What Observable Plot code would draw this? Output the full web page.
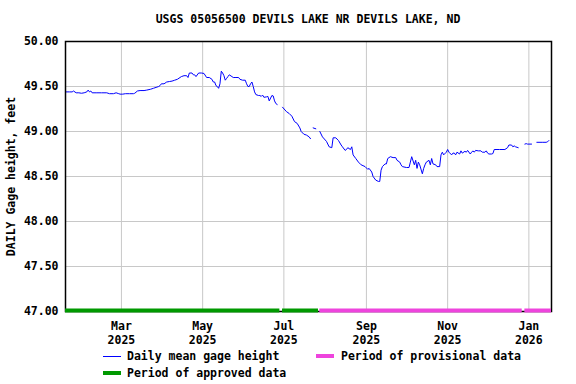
<!DOCTYPE html>
<html>
<head>
<meta charset="utf-8">
<script src="https://cdn.jsdelivr.net/npm/d3@7"></script>
<script src="https://cdn.jsdelivr.net/npm/@observablehq/plot@0.6"></script>
<style>
  body { margin: 0; background: #fff; }
  #wrap { position: relative; width: 576px; height: 384px; font-family: "DejaVu Sans Mono", monospace; font-weight: bold; font-size: 11.5px; color: #000; }
  #title { position: absolute; left: 65px; width: 486px; top: 12px; line-height: 14px; text-align: center; white-space: nowrap; }
  #chart { position: absolute; left: 0; top: 30px; }
  .lg { position: absolute; line-height: 14px; white-space: nowrap; }
  .sw { position: absolute; width: 18px; }
</style>
</head>
<body>
<div id="wrap">
  <div id="title"></div>
  <div id="chart"></div>
  <div id="legend"></div>
</div>
<script>
const titleText = "USGS 05056500 DEVILS LAKE NR DEVILS LAKE, ND";
const yLabel = "DAILY Gage height, feet";

// Daily mean gage height readings (null = gap in record)
const dates = [
"2025-01-18","2025-01-21","2025-01-23","2025-01-24","2025-01-26","2025-01-28","2025-01-30","2025-02-01","2025-02-03","2025-02-04",
"2025-02-05","2025-02-06","2025-02-07","2025-02-10","2025-02-14","2025-02-18","2025-02-20","2025-02-23","2025-02-25","2025-02-27",
"2025-02-28","2025-03-02","2025-03-04","2025-03-07","2025-03-10","2025-03-11","2025-03-13","2025-03-15","2025-03-18","2025-03-20",
"2025-03-23","2025-03-25","2025-03-27","2025-03-29","2025-03-30","2025-03-31","2025-04-02","2025-04-04","2025-04-06","2025-04-08",
"2025-04-10","2025-04-12","2025-04-14","2025-04-15","2025-04-17","2025-04-19","2025-04-20","2025-04-21","2025-04-23","2025-04-24",
"2025-04-25","2025-04-26","2025-04-28","2025-04-30","2025-05-02","2025-05-04","2025-05-06","2025-05-08","2025-05-09","2025-05-10",
"2025-05-11","2025-05-12","2025-05-13","2025-05-14","2025-05-15","2025-05-16","2025-05-17","2025-05-18","2025-05-19","2025-05-20",
"2025-05-21","2025-05-23","2025-05-24","2025-05-26","2025-05-28","2025-05-29","2025-05-31","2025-06-02","2025-06-03","2025-06-04",
"2025-06-05","2025-06-06","2025-06-07","2025-06-08","2025-06-09","2025-06-10","2025-06-12","2025-06-13","2025-06-14","2025-06-15",
"2025-06-16","2025-06-18","2025-06-19","2025-06-20","2025-06-22","2025-06-23","2025-06-24","2025-06-25","2025-06-26","2025-06-28",
"2025-06-30","2025-07-03","2025-07-05","2025-07-07","2025-07-09","2025-07-11","2025-07-13","2025-07-14","2025-07-16","2025-07-18",
"2025-07-20","2025-07-21","2025-07-22","2025-07-23","2025-07-25","2025-07-26","2025-07-28","2025-07-30","2025-08-02","2025-08-04",
"2025-08-06","2025-08-07","2025-08-09","2025-08-11","2025-08-13","2025-08-14","2025-08-16","2025-08-17","2025-08-18","2025-08-20",
"2025-08-21","2025-08-22","2025-08-24","2025-08-26","2025-08-28","2025-08-31","2025-09-02","2025-09-03","2025-09-05","2025-09-06",
"2025-09-08","2025-09-10","2025-09-11","2025-09-12","2025-09-13","2025-09-15","2025-09-16","2025-09-17","2025-09-19","2025-09-21",
"2025-09-23","2025-09-24","2025-09-26","2025-09-27","2025-09-28","2025-10-01","2025-10-03","2025-10-04","2025-10-05","2025-10-07",
"2025-10-08","2025-10-09","2025-10-10","2025-10-11","2025-10-13","2025-10-14","2025-10-15","2025-10-16","2025-10-18","2025-10-19",
"2025-10-20","2025-10-21","2025-10-23","2025-10-24","2025-10-26","2025-10-27","2025-10-28","2025-10-29","2025-10-31","2025-11-01",
"2025-11-02","2025-11-04","2025-11-05","2025-11-06","2025-11-07","2025-11-08","2025-11-10","2025-11-11","2025-11-12","2025-11-14",
"2025-11-15","2025-11-16","2025-11-18","2025-11-19","2025-11-20","2025-11-21","2025-11-22","2025-11-24","2025-11-26","2025-11-27",
"2025-11-29","2025-11-30","2025-12-01","2025-12-02","2025-12-04","2025-12-05","2025-12-06","2025-12-10","2025-12-14","2025-12-16",
"2025-12-17","2025-12-19","2025-12-20","2025-12-21","2025-12-22","2025-12-24","2025-12-26","2025-12-29","2025-12-30","2025-12-31",
"2026-01-03","2026-01-05","2026-01-07","2026-01-11","2026-01-14","2026-01-15","2026-01-16"
];
const values = [
49.44,49.44,49.44,49.45,49.43,49.43,49.425,49.43,49.44,49.46,
49.44,49.45,49.43,49.43,49.43,49.43,49.42,49.42,49.43,49.42,
49.415,49.415,49.42,49.42,49.42,49.425,49.45,49.455,49.455,49.46,
49.47,49.48,49.49,49.50,49.51,49.53,49.53,49.55,49.555,49.56,
49.57,49.58,49.60,49.61,49.62,49.62,49.60,49.65,49.65,49.63,
49.63,49.61,49.65,49.65,49.645,49.60,49.60,49.58,49.55,49.55,
49.51,49.50,49.48,49.53,49.67,49.65,49.62,49.57,49.59,49.61,
49.63,49.61,49.60,49.60,49.60,49.58,49.57,49.57,49.53,49.50,
49.50,49.53,49.55,49.50,49.44,49.41,49.40,49.40,49.39,49.405,
49.38,49.385,49.39,49.34,49.40,49.395,49.34,49.31,49.30,null,
49.27,49.22,49.20,49.17,49.11,49.09,49.04,49.00,48.97,48.96,
48.94,48.92,null,49.04,49.03,null,49.00,48.94,48.89,48.83,
48.82,48.93,48.93,48.90,48.85,48.83,48.79,48.80,48.82,48.80,
48.83,48.74,48.70,48.66,48.63,48.61,48.58,48.59,48.55,48.50,
48.46,48.445,48.445,48.57,48.61,48.64,48.64,48.70,48.72,48.71,
48.71,48.68,48.66,48.63,48.61,48.60,48.60,48.66,48.72,48.63,
48.68,48.59,48.66,48.63,48.53,48.59,48.63,48.66,48.68,48.63,
48.70,48.64,48.63,48.61,48.61,48.74,48.77,48.74,48.77,48.80,
48.77,48.74,48.76,48.76,48.74,48.77,48.75,48.785,48.76,48.78,
48.77,48.79,48.75,48.77,48.785,48.77,48.79,48.785,48.785,48.77,
48.77,48.785,48.76,48.75,48.75,48.755,48.80,48.80,48.80,48.82,
48.85,48.85,48.83,48.84,48.83,48.82,null,48.86,48.865,48.86,
48.86,null,48.88,48.88,48.88,48.885,48.90
];

// Approval periods
const approvedStarts = ["2025-01-18", "2025-06-30"];
const approvedEnds = ["2025-06-28", "2025-07-27"];
const provisionalStarts = ["2025-07-28", "2025-12-29"];
const provisionalEnds = ["2025-12-27", "2026-01-18"];

// Axes
const xDomain = ["2025-01-18", "2026-01-18"];
const xTickDates = ["2025-03-01", "2025-05-01", "2025-07-01", "2025-09-01", "2025-11-01", "2026-01-01"];
const xTickLabels = ["Mar\n2025", "May\n2025", "Jul\n2025", "Sep\n2025", "Nov\n2025", "Jan\n2026"];
const yTicks = [47.0, 47.5, 48.0, 48.5, 49.0, 49.5, 50.0];

const legendItems = ["Daily mean gage height", "Period of provisional data", "Period of approved data"];

const BLUE = "#0000ff", GREEN = "#009900", PINK = "#ee44dd";

const P = s => new Date(s + "T00:00:00Z");
const series = dates.map((d, i) => ({date: P(d), value: values[i]}));
const periods = [
  ...approvedStarts.map((s, i) => ({start: P(s), end: P(approvedEnds[i]), kind: "approved"})),
  ...provisionalStarts.map((s, i) => ({start: P(s), end: P(provisionalEnds[i]), kind: "provisional"}))
];
const tickDates = xTickDates.map(P);

document.getElementById("title").textContent = titleText;

const chart = Plot.plot({
  width: 576,
  height: 318,
  marginTop: 11,
  marginBottom: 37,
  marginLeft: 65,
  marginRight: 25,
  style: {fontFamily: "'DejaVu Sans Mono', monospace", fontWeight: "bold", fontSize: "11.5px", color: "#000", background: "#fff"},
  x: {type: "utc", domain: xDomain.map(P)},
  y: {domain: [47, 50]},
  marks: [
    Plot.gridX(tickDates, {stroke: "#c8c8c8", strokeOpacity: 1}),
    Plot.gridY(yTicks, {stroke: "#c8c8c8", strokeOpacity: 1}),
    Plot.axisX(tickDates, {tickSize: 0, tickPadding: 9, lineHeight: 1.22, tickFormat: (d, i) => xTickLabels[i], label: null, fill: "#000"}),
    Plot.axisY(yTicks, {tickSize: 0, tickPadding: 7, tickFormat: d3.format(".2f"), label: yLabel, labelAnchor: "center", labelArrow: "none", labelOffset: 59, fill: "#000"}),
    Plot.lineY(series, {x: "date", y: "value", stroke: BLUE, strokeWidth: 1}),
    Plot.frame({stroke: "#000", strokeWidth: 1.5}),
    Plot.ruleY(periods, {y: () => 47, x1: "start", x2: "end", stroke: d => d.kind === "approved" ? GREEN : PINK, strokeWidth: 4, dy: -1})
  ]
});
document.getElementById("chart").appendChild(chart);

// Legend
const legend = document.getElementById("legend");
const lgPos = [
  {x: 127, y: 349, sx: 103, color: BLUE, h: 1},
  {x: 341, y: 349, sx: 316, color: PINK, h: 4},
  {x: 127, y: 366, sx: 103, color: GREEN, h: 4}
];
legendItems.forEach((t, i) => {
  const p = lgPos[i];
  const sw = document.createElement("div");
  sw.className = "sw";
  sw.style.left = p.sx + "px";
  sw.style.top = (p.y + 7 - p.h / 2) + "px";
  sw.style.height = p.h + "px";
  sw.style.background = p.color;
  legend.appendChild(sw);
  const lb = document.createElement("div");
  lb.className = "lg";
  lb.style.left = p.x + "px";
  lb.style.top = p.y + "px";
  lb.textContent = t;
  legend.appendChild(lb);
});
</script>
</body>
</html>
